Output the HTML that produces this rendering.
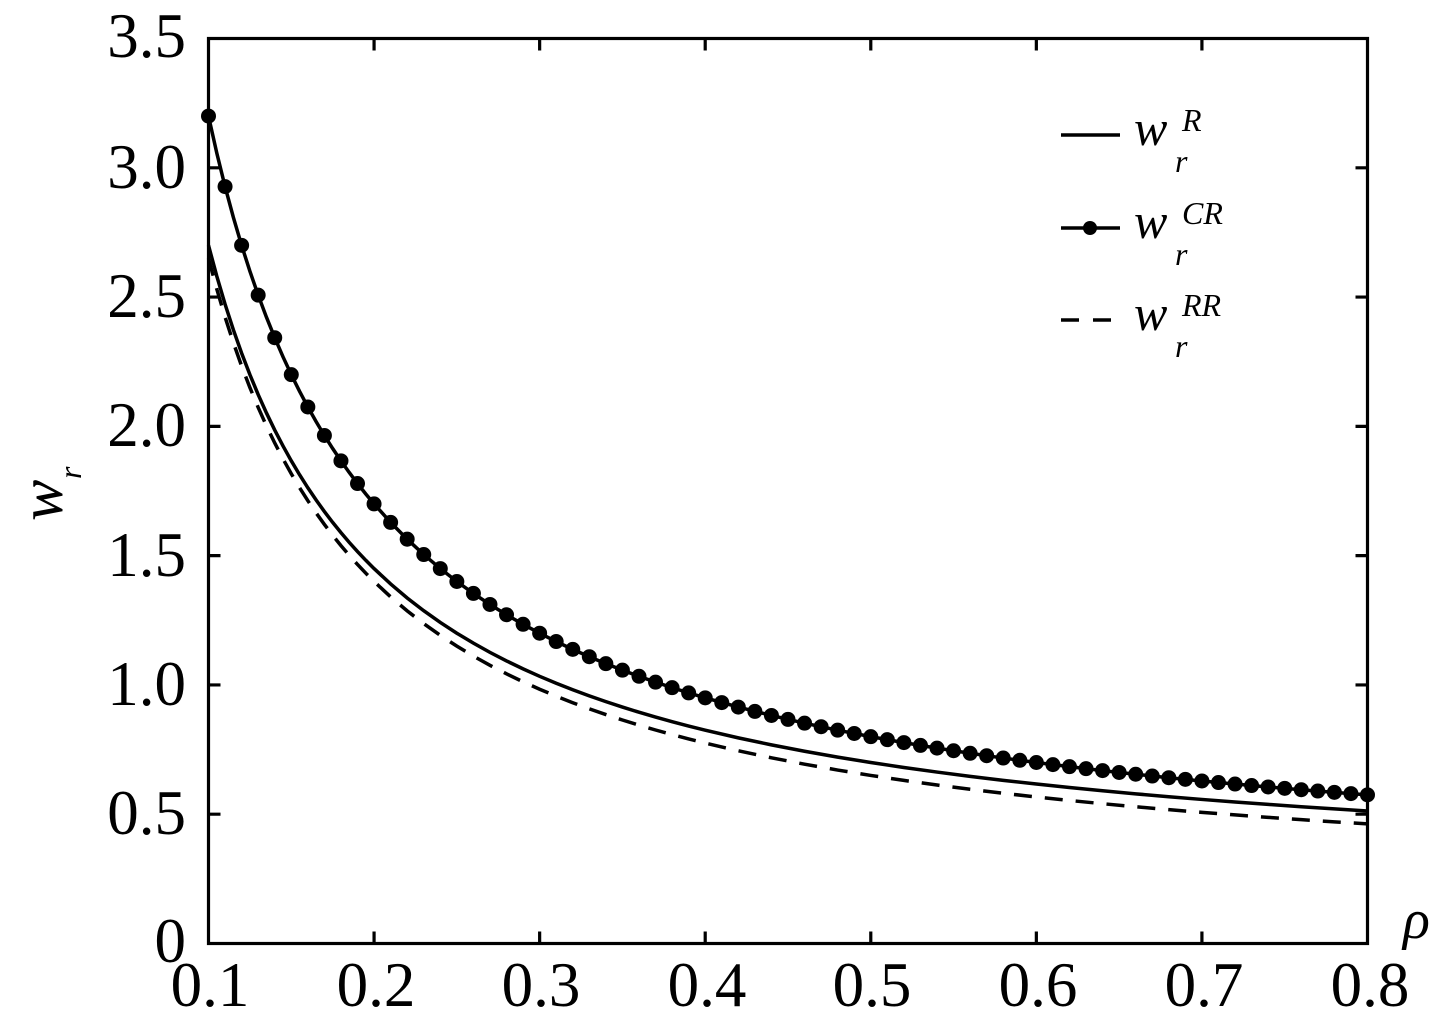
<!DOCTYPE html>
<html><head><meta charset="utf-8"><style>
html,body{margin:0;padding:0;background:#fff;}
svg{display:block;}
text{font-family:"Liberation Serif",serif;fill:#000;}
</style></head><body>
<svg width="1438" height="1025" viewBox="0 0 1438 1025" xmlns="http://www.w3.org/2000/svg">
<defs>
<marker id="m" markerUnits="userSpaceOnUse" markerWidth="2" markerHeight="2" viewBox="-1 -1 2 2" refX="0" refY="0" overflow="visible">
<ellipse cx="0" cy="0" rx="0.453" ry="0.0967" fill="#000"/>
</marker>
</defs>
<rect width="1438" height="1025" fill="#fff"/>

<!-- R solid -->
<path transform="matrix(16.557,0,0,-64.643,42.93,891.786)" vector-effect="non-scaling-stroke" fill="none" stroke="#000" stroke-width="3.5" d="M10,10 L10.5,9.5238 11,9.0909 11.5,8.6957 12,8.3333 12.5,8 13,7.6923 13.5,7.4074 14,7.1429 14.5,6.8966 15,6.6667 15.5,6.4516 16,6.25 16.5,6.0606 17,5.8824 17.5,5.7143 18,5.5556 18.5,5.4054 19,5.2632 19.5,5.1282 20,5 21,4.7619 22,4.5455 23,4.3478 24,4.1667 25,4 26,3.8462 27,3.7037 28,3.5714 29,3.4483 30,3.3333 31,3.2258 32,3.125 33,3.0303 34,2.9412 35,2.8571 36,2.7778 37,2.7027 38,2.6316 39,2.5641 40,2.5 42,2.381 44,2.2727 46,2.1739 48,2.0833 50,2 52,1.9231 54,1.8519 56,1.7857 58,1.7241 60,1.6667 62,1.6129 64,1.5625 66,1.5152 68,1.4706 70,1.4286 72,1.3889 74,1.3514 76,1.3158 78,1.2821 80,1.25"/>

<!-- RR dashed -->
<path transform="matrix(16.557,0,0,-64.643,42.93,904.714)" vector-effect="non-scaling-stroke" fill="none" stroke="#000" stroke-width="3.5" stroke-dasharray="18 13" d="M10,10 L10.5,9.5238 11,9.0909 11.5,8.6957 12,8.3333 12.5,8 13,7.6923 13.5,7.4074 14,7.1429 14.5,6.8966 15,6.6667 15.5,6.4516 16,6.25 16.5,6.0606 17,5.8824 17.5,5.7143 18,5.5556 18.5,5.4054 19,5.2632 19.5,5.1282 20,5 21,4.7619 22,4.5455 23,4.3478 24,4.1667 25,4 26,3.8462 27,3.7037 28,3.5714 29,3.4483 30,3.3333 31,3.2258 32,3.125 33,3.0303 34,2.9412 35,2.8571 36,2.7778 37,2.7027 38,2.6316 39,2.5641 40,2.5 42,2.381 44,2.2727 46,2.1739 48,2.0833 50,2 52,1.9231 54,1.8519 56,1.7857 58,1.7241 60,1.6667 62,1.6129 64,1.5625 66,1.5152 68,1.4706 70,1.4286 72,1.3889 74,1.3514 76,1.3158 78,1.2821 80,1.25"/>

<!-- CR line -->
<path transform="matrix(16.557,0,0,-77.571,42.93,891.786)" vector-effect="non-scaling-stroke" fill="none" stroke="#000" stroke-width="3.5" d="M10,10 L10.5,9.5238 11,9.0909 11.5,8.6957 12,8.3333 12.5,8 13,7.6923 13.5,7.4074 14,7.1429 14.5,6.8966 15,6.6667 15.5,6.4516 16,6.25 16.5,6.0606 17,5.8824 17.5,5.7143 18,5.5556 18.5,5.4054 19,5.2632 19.5,5.1282 20,5 21,4.7619 22,4.5455 23,4.3478 24,4.1667 25,4 26,3.8462 27,3.7037 28,3.5714 29,3.4483 30,3.3333 31,3.2258 32,3.125 33,3.0303 34,2.9412 35,2.8571 36,2.7778 37,2.7027 38,2.6316 39,2.5641 40,2.5 42,2.381 44,2.2727 46,2.1739 48,2.0833 50,2 52,1.9231 54,1.8519 56,1.7857 58,1.7241 60,1.6667 62,1.6129 64,1.5625 66,1.5152 68,1.4706 70,1.4286 72,1.3889 74,1.3514 76,1.3158 78,1.2821 80,1.25"/>

<!-- CR markers -->
<path transform="matrix(16.557,0,0,-77.571,42.93,891.786)" fill="none" stroke="none" marker-start="url(#m)" marker-mid="url(#m)" marker-end="url(#m)" d="M10,10 L11,9.0909 12,8.3333 13,7.6923 14,7.1429 15,6.6667 16,6.25 17,5.8824 18,5.5556 19,5.2632 20,5 21,4.7619 22,4.5455 23,4.3478 24,4.1667 25,4 26,3.8462 27,3.7037 28,3.5714 29,3.4483 30,3.3333 31,3.2258 32,3.125 33,3.0303 34,2.9412 35,2.8571 36,2.7778 37,2.7027 38,2.6316 39,2.5641 40,2.5 41,2.439 42,2.381 43,2.3256 44,2.2727 45,2.2222 46,2.1739 47,2.1277 48,2.0833 49,2.0408 50,2 51,1.9608 52,1.9231 53,1.8868 54,1.8519 55,1.8182 56,1.7857 57,1.7544 58,1.7241 59,1.6949 60,1.6667 61,1.6393 62,1.6129 63,1.5873 64,1.5625 65,1.5385 66,1.5152 67,1.4925 68,1.4706 69,1.4493 70,1.4286 71,1.4085 72,1.3889 73,1.3699 74,1.3514 75,1.3333 76,1.3158 77,1.2987 78,1.2821 79,1.2658 80,1.25"/>

<!-- Frame -->
<rect x="208.5" y="38.5" width="1159" height="905" fill="none" stroke="#000" stroke-width="3.2"/>

<!-- Ticks -->
<g stroke="#000" stroke-width="3.2">
<path d="M374.07,943.5V931.5 M539.64,943.5V931.5 M705.21,943.5V931.5 M870.78,943.5V931.5 M1036.35,943.5V931.5 M1201.92,943.5V931.5"/>
<path d="M374.07,38.5V50.5 M539.64,38.5V50.5 M705.21,38.5V50.5 M870.78,38.5V50.5 M1036.35,38.5V50.5 M1201.92,38.5V50.5"/>
<path d="M208.5,814.21H220.5 M208.5,684.93H220.5 M208.5,555.64H220.5 M208.5,426.36H220.5 M208.5,297.07H220.5 M208.5,167.79H220.5"/>
<path d="M1367.5,814.21H1355.5 M1367.5,684.93H1355.5 M1367.5,555.64H1355.5 M1367.5,426.36H1355.5 M1367.5,297.07H1355.5 M1367.5,167.79H1355.5"/>
</g>

<!-- Y tick labels -->
<g font-size="63" text-anchor="end">
<text x="186" y="962">0</text>
<text x="186" y="834">0.5</text>
<text x="186" y="705">1.0</text>
<text x="186" y="576">1.5</text>
<text x="186" y="446">2.0</text>
<text x="186" y="317">2.5</text>
<text x="186" y="188">3.0</text>
<text x="186" y="57">3.5</text>
</g>

<!-- X tick labels -->
<g font-size="63" text-anchor="middle">
<text x="210" y="1006">0.1</text>
<text x="376" y="1006">0.2</text>
<text x="541" y="1006">0.3</text>
<text x="707" y="1006">0.4</text>
<text x="872" y="1006">0.5</text>
<text x="1038" y="1006">0.6</text>
<text x="1204" y="1006">0.7</text>
<text x="1370" y="1006">0.8</text>
</g>

<!-- Axis labels -->
<text x="1403" y="938" font-size="56" font-style="italic">ρ</text>
<g transform="translate(62,521) rotate(-90)">
<text x="0" y="0" font-size="62" font-style="italic">w</text>
<text x="42" y="19" font-size="32" font-style="italic">r</text>
</g>

<!-- Legend -->
<line x1="1061" y1="135" x2="1120" y2="135" stroke="#000" stroke-width="3.5"/>
<line x1="1061" y1="228" x2="1120" y2="228" stroke="#000" stroke-width="3.5"/>
<circle cx="1090" cy="228" r="7" fill="#000"/>
<line x1="1061" y1="320" x2="1111" y2="320" stroke="#000" stroke-width="3.5" stroke-dasharray="18 14"/>

<g font-style="italic">
<text x="1134" y="145" font-size="50">w</text>
<text x="1182" y="131" font-size="32">R</text>
<text x="1175" y="172" font-size="32">r</text>

<text x="1134" y="238" font-size="50">w</text>
<text x="1182" y="224" font-size="32">CR</text>
<text x="1175" y="265" font-size="32">r</text>

<text x="1134" y="330" font-size="50">w</text>
<text x="1182" y="316" font-size="32">RR</text>
<text x="1175" y="357" font-size="32">r</text>
</g>
</svg>
</body></html>
